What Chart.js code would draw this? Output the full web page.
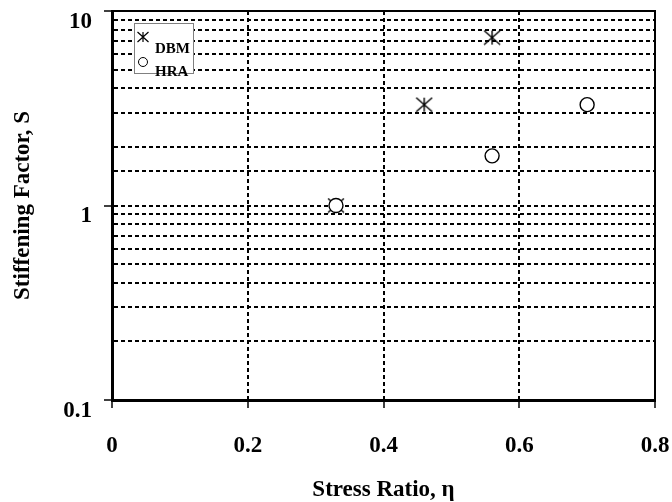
<!DOCTYPE html>
<html><head><meta charset="utf-8">
<script src="https://cdn.jsdelivr.net/npm/chart.js@4/dist/chart.umd.min.js"></script>
<style>html,body{margin:0;padding:0;background:#fff}canvas{display:block}</style>
</head><body>
<canvas id="c" width="672" height="502"></canvas>
<script>
const seriesNames = ['DBM', 'HRA'];
const dbmEta = [0.33, 0.46, 0.56];
const dbmS = [1.0, 3.3, 7.3];
const hraEta = [0.33, 0.56, 0.70];
const hraS = [1.0, 1.8, 3.3];
const xTickValues = [0, 0.2, 0.4, 0.6, 0.8];
const yMajorTicks = [0.1, 1, 10];
const xTitle = 'Stress Ratio, η';
const yTitle = 'Stiffening Factor, S';

const FAM = '"Liberation Serif", "Times New Roman", serif';
const near = (a, b) => Math.abs(a - b) < 1e-9 * Math.max(1, Math.abs(b));
const isMajor = v => yMajorTicks.some(m => near(v, m));

function makeStar(w, h, lw) {
  const c = document.createElement('canvas');
  c.width = w + 2; c.height = h + 2;
  const g = c.getContext('2d');
  g.strokeStyle = '#000'; g.lineWidth = lw;
  const cx = c.width / 2, cy = c.height / 2;
  g.beginPath();
  g.moveTo(cx, cy - h / 2); g.lineTo(cx, cy + h / 2);
  g.moveTo(cx - w / 2, cy - h / 2); g.lineTo(cx + w / 2, cy + h / 2);
  g.moveTo(cx - w / 2, cy + h / 2); g.lineTo(cx + w / 2, cy - h / 2);
  g.stroke();
  return c;
}
const starImg = makeStar(16, 14, 1.4);

const framePlugin = {
  id: 'frame',
  beforeDatasetsDraw(chart) {
    const {ctx, chartArea: a} = chart;
    ctx.save();
    ctx.strokeStyle = '#000';
    ctx.lineWidth = 2;
    ctx.setLineDash([]);
    ctx.beginPath();
    ctx.moveTo(a.left, a.top); ctx.lineTo(a.right, a.top); ctx.lineTo(a.right, a.bottom);
    ctx.stroke();
    ctx.restore();
  },
  afterDraw(chart) {
    const ctx = chart.ctx;
    const ds = chart.data.datasets;
    ctx.save();
    ctx.fillStyle = '#fff';
    ctx.fillRect(134, 23, 59, 50);
    ctx.strokeStyle = '#808080';
    ctx.lineWidth = 1;
    ctx.strokeRect(134.5, 23.5, 59, 50);
    ctx.strokeStyle = '#000';
    ctx.lineWidth = 1.2;
    const sx = 143, sy = 37, sw = 11, sh = 10;
    ctx.beginPath();
    ctx.moveTo(sx, sy - sh / 2); ctx.lineTo(sx, sy + sh / 2);
    ctx.moveTo(sx - sw / 2, sy - sh / 2); ctx.lineTo(sx + sw / 2, sy + sh / 2);
    ctx.moveTo(sx - sw / 2, sy + sh / 2); ctx.lineTo(sx + sw / 2, sy - sh / 2);
    ctx.stroke();
    ctx.lineWidth = 1;
    ctx.beginPath();
    ctx.arc(143, 62, 4.5, 0, Math.PI * 2);
    ctx.stroke();
    ctx.fillStyle = '#000';
    ctx.font = 'bold 15px ' + FAM;
    ctx.textBaseline = 'middle';
    ctx.textAlign = 'left';
    ctx.fillText(ds[0].label, 155, 49);
    ctx.fillText(ds[1].label, 155, 72);
    ctx.restore();
  }
};

const tickFont = {family: FAM, size: 23, weight: 'bold'};

new Chart(document.getElementById('c'), {
  type: 'scatter',
  data: {
    datasets: [
      {
        label: seriesNames[0],
        data: dbmEta.map((x, i) => ({x, y: dbmS[i]})),
        pointStyle: starImg,
        pointRadius: 8,
        showLine: false,
        order: 1
      },
      {
        label: seriesNames[1],
        data: hraEta.map((x, i) => ({x, y: hraS[i]})),
        pointStyle: 'circle',
        pointRadius: 7,
        pointBorderWidth: 1.4,
        borderColor: '#000',
        backgroundColor: '#fff',
        showLine: false,
        order: 0
      }
    ]
  },
  options: {
    responsive: false,
    animation: false,
    devicePixelRatio: 1,
    layout: {padding: {top: 11, right: 17, left: 0, bottom: 0}},
    plugins: {legend: {display: false}, tooltip: {enabled: false}},
    scales: {
      x: {
        type: 'linear', min: 0, max: 0.8,
        afterBuildTicks: s => { s.ticks = xTickValues.map(v => ({value: v})); },
        ticks: {
          callback: v => v === 0 ? '0' : Number(v).toFixed(1),
          font: tickFont, color: '#000', padding: 24, maxRotation: 0, autoSkip: false
        },
        grid: {
          color: c => (c.tick && near(c.tick.value, 0)) ? 'rgba(0,0,0,0)' : '#000',
          lineWidth: 2, tickLength: 8, tickColor: '#000', tickWidth: 1.5, drawTicks: true
        },
        border: {display: true, color: '#000', width: 3, dash: [4, 3]},
        title: {display: true, text: xTitle, color: '#000', padding: 0,
                font: {family: FAM, size: 23, weight: 'bold', lineHeight: 1}},
        afterFit: s => { s.height = 102; s.paddingLeft = 0; s.paddingRight = 0; }
      },
      y: {
        type: 'logarithmic', min: 0.1, max: 10,
        ticks: {
          callback: v => isMajor(v) ? String(v) : '',
          autoSkip: false, padding: 12, labelOffset: 11,
          font: tickFont, color: '#000'
        },
        grid: {
          color: c => (c.tick && (near(c.tick.value, 0.1) || near(c.tick.value, 10))) ? 'rgba(0,0,0,0)' : '#000',
          lineWidth: 2, tickLength: 8,
          tickColor: c => (c.tick && isMajor(c.tick.value)) ? '#000' : 'rgba(0,0,0,0)',
          tickWidth: 1.5
        },
        border: {display: true, color: '#000', width: 3, dash: [4, 3]},
        title: {display: true, text: yTitle, color: '#000', padding: {top: 9, bottom: 0},
                font: {family: FAM, size: 23, weight: 'bold', lineHeight: 1.2}},
        afterFit: s => { s.width = 112; s.paddingTop = 0; s.paddingBottom = 0; }
      }
    }
  },
  plugins: [framePlugin]
});
</script>
</body></html>
